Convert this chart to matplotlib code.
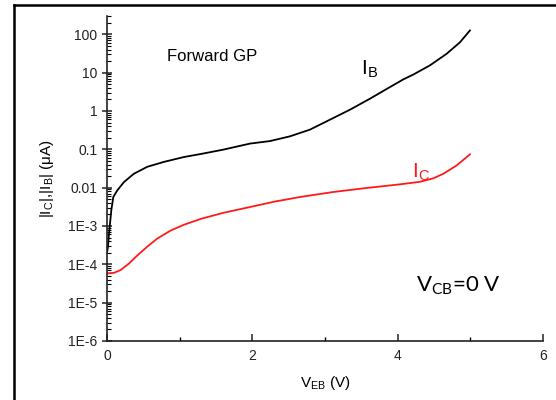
import matplotlib
matplotlib.use("Agg")
import matplotlib.pyplot as plt
from matplotlib.lines import Line2D
from matplotlib.ticker import LogLocator, MultipleLocator, NullFormatter

plt.rcParams['font.family'] = ['Liberation Sans', 'DejaVu Sans']

# data (V_EB in V, currents in uA)
ib_v = [0.0, 0.014, 0.028, 0.06, 0.087, 0.142, 0.234, 0.37, 0.555, 0.784, 1.06, 1.3, 1.6,
        1.968, 2.243, 2.518, 2.793, 3.069, 3.344, 3.619, 3.894, 4.08, 4.215, 4.445, 4.674, 4.858, 4.995]
ib_i = [2.0e-4, 2.9e-4, 6.4e-4, 2.6e-3, 5.7e-3, 8.5e-3, 0.014, 0.023, 0.035, 0.047, 0.063, 0.076, 0.098,
        0.141, 0.164, 0.218, 0.326, 0.593, 1.08, 2.09, 4.2, 6.7, 8.9, 15.5, 31, 62, 126]

ic_v = [0.0, 0.096, 0.188, 0.303, 0.417, 0.555, 0.693, 0.876, 1.06, 1.3, 1.6, 1.96, 2.3,
        2.656, 3.114, 3.573, 4.032, 4.307, 4.491, 4.628, 4.812, 4.995]
ic_i = [5.8e-5, 6.0e-5, 7.1e-5, 1.05e-4, 1.7e-4, 2.9e-4, 4.7e-4, 7.6e-4, 1.08e-3, 1.55e-3, 2.2e-3, 3.1e-3, 4.3e-3,
        5.7e-3, 7.7e-3, 9.8e-3, 0.0122, 0.0142, 0.0175, 0.023, 0.038, 0.074]

yticks = [1e-6, 1e-5, 1e-4, 1e-3, 0.01, 0.1, 1, 10, 100]
ylabels = ['1E-6', '1E-5', '1E-4', '1E-3', '0.01', '0.1', '1', '10', '100']
xticks = [0, 2, 4, 6]

fig = plt.figure(figsize=(5.56, 4.0), dpi=100)
ax = fig.add_axes([0.1924, 0.1475, 0.7842, 0.8125])

ax.plot(ib_v, ib_i, color='black', lw=1.3)
ax.plot(ic_v, ic_i, color='#ff1a1a', lw=1.3)

ax.set_yscale('log')
ax.set_xlim(0, 6)
ax.set_ylim(1e-6, 300)
ax.set_yticks(yticks)
ax.set_yticklabels(ylabels)
ax.yaxis.set_minor_locator(LogLocator(base=10, subs=range(2, 10), numticks=20))
ax.yaxis.set_minor_formatter(NullFormatter())
ax.set_xticks(xticks)
ax.xaxis.set_minor_locator(MultipleLocator(1))

for s in ['top', 'right']:
    ax.spines[s].set_visible(False)
for s in ['left', 'bottom']:
    ax.spines[s].set_linewidth(1.2)
    ax.spines[s].set_color('#222222')

ax.tick_params(axis='y', which='major', direction='inout', length=7, width=1.1, labelsize=10, colors='#222222')
ax.tick_params(axis='y', which='minor', direction='in', length=3, width=0.8)
ax.tick_params(axis='x', which='major', direction='in', length=5, width=1.1, labelsize=10, colors='#222222', pad=6)
ax.tick_params(axis='x', which='minor', direction='in', length=3, width=1.0)

ax.set_xlabel(r'V$_{\mathregular{EB}}$ (V)', fontsize=11, labelpad=8)
ax.set_ylabel(r'|I$_{\mathregular{C}}$|,|I$_{\mathregular{B}}$| ($\mathregular{\mu}$A)', fontsize=11, labelpad=9)

ax.text(0.82, 26, 'Forward GP', fontsize=12, va='center', ha='left')
ax.text(3.5, 12, r'I$_{\mathregular{B}}$', fontsize=15, va='center', ha='left')
ax.text(4.2, 0.026, r'I$_{\mathregular{C}}$', fontsize=15, va='center', ha='left', color='#ff1a1a')
ax.text(4.25, 2.7e-5, r'V$_{\mathregular{CB}}$=0 V', fontsize=16, va='center', ha='left', family=['Lato', 'DejaVu Sans'])

# figure frame (left and top edges)
fig.add_artist(Line2D([14/556, 14/556], [0, 1 - 5/400], transform=fig.transFigure, color='black', lw=1.8))
fig.add_artist(Line2D([14/556, 1], [1 - 5/400, 1 - 5/400], transform=fig.transFigure, color='black', lw=1.8))

fig.savefig('out.png', dpi=100)
